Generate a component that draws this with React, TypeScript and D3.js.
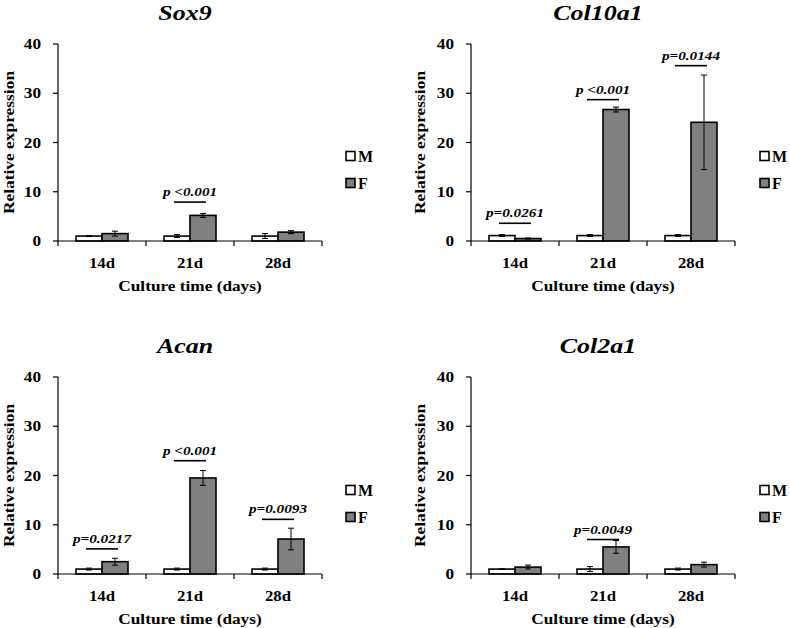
import * as d3 from 'd3'

const categories = ['14d', '21d', '28d']
const genes = ['Sox9', 'Col10a1', 'Acan', 'Col2a1']
const groups = ['M', 'F']
const yTicks = [0, 10, 20, 30, 40]

// mean / error per gene, per culture time
const maleMean = [
  [1.0, 1.0, 1.0],
  [1.1, 1.1, 1.1],
  [1.0, 1.0, 1.0],
  [1.0, 1.0, 1.0],
]
const maleErr = [
  [0.1, 0.3, 0.5],
  [0.2, 0.2, 0.2],
  [0.2, 0.2, 0.2],
  [0.05, 0.5, 0.2],
]
const femaleMean = [
  [1.5, 5.2, 1.8],
  [0.5, 26.7, 24.1],
  [2.5, 19.5, 7.1],
  [1.4, 5.5, 1.9],
]
const femaleErr = [
  [0.5, 0.4, 0.3],
  [0.1, 0.5, 9.6],
  [0.7, 1.5, 2.2],
  [0.4, 1.3, 0.5],
]

// significance lines: gene index, category, line height, label
const annotations = [
  { gene: 0, cat: '21d', level: 7.9, label: 'p <0.001' },
  { gene: 1, cat: '14d', level: 3.6, label: 'p=0.0261' },
  { gene: 1, cat: '21d', level: 28.7, label: 'p <0.001' },
  { gene: 1, cat: '28d', level: 35.6, label: 'p=0.0144' },
  { gene: 2, cat: '14d', level: 5.1, label: 'p=0.0217' },
  { gene: 2, cat: '21d', level: 23.0, label: 'p <0.001' },
  { gene: 2, cat: '28d', level: 11.1, label: 'p=0.0093' },
  { gene: 3, cat: '21d', level: 7.0, label: 'p=0.0049' },
]

const font = "'Liberation Serif', 'DejaVu Serif', 'Times New Roman', serif"
const fillF = '#808080'

// the original figure is a little stretched sideways, so text gets a horizontal scale
function T({ x, y, sx = 1.15, rotate = 0, anchor = 'middle', size = 15, italic = false, children }: any) {
  return (
    <text transform={`translate(${x},${y}) rotate(${rotate}) scale(${sx},1)`} textAnchor={anchor}
      fontSize={size} fontWeight="bold" fontStyle={italic ? 'italic' : 'normal'}>
      {children}
    </text>
  )
}

function Panel({ index }: { index: number }) {
  const col = index % 2
  const row = Math.floor(index / 2)
  const ax = col === 0 ? 58 : 471
  const axisW = 264
  const y0 = row === 0 ? 241 : 574
  const y40 = row === 0 ? 44 : 377

  const x = d3.scaleBand<string>().domain(categories).range([ax, ax + axisW]).padding(0)
  const sub = d3.scaleBand<string>().domain(groups).range([x.bandwidth() / 2 - 26, x.bandwidth() / 2 + 26])
  const y = d3.scaleLinear().domain([0, 40]).range([y0, y40])
  const mid = ax + axisW / 2

  const legendX = col === 0 ? 346 : 760
  const legendY = row === 0 ? 156 : 490

  return (
    <g fontFamily={font}>
      <T x={mid - 5} y={y40 - 24} size={22} sx={1.18} italic>{genes[index]}</T>

      {/* bars */}
      {categories.map((c, ci) =>
        groups.map(g => {
          const v = g === 'M' ? maleMean[index][ci] : femaleMean[index][ci]
          const e = g === 'M' ? maleErr[index][ci] : femaleErr[index][ci]
          const bx = (x(c) ?? 0) + (sub(g) ?? 0)
          const cx = bx + sub.bandwidth() / 2
          const lo = y(Math.max(0, v - e))
          const hi = y(v + e)
          return (
            <g key={c + g}>
              <rect x={bx} y={y(v)} width={sub.bandwidth()} height={y0 - y(v)}
                fill={g === 'M' ? '#fff' : fillF} stroke="#000" strokeWidth={1.6} />
              <line x1={cx} x2={cx} y1={hi} y2={lo} stroke="#000" strokeWidth={1} />
              <line x1={cx - 3} x2={cx + 3} y1={hi} y2={hi} stroke="#000" strokeWidth={1} />
              <line x1={cx - 3} x2={cx + 3} y1={lo} y2={lo} stroke="#000" strokeWidth={1} />
            </g>
          )
        })
      )}

      {/* y axis */}
      <line x1={ax} x2={ax} y1={y40} y2={y0} stroke="#000" strokeWidth={1.2} />
      {yTicks.map(t => (
        <g key={t}>
          <line x1={ax - 5} x2={ax} y1={y(t)} y2={y(t)} stroke="#000" strokeWidth={1.2} />
          <T x={ax - 17} y={y(t) + 5} anchor="end" size={15} sx={1.15}>{t}</T>
        </g>
      ))}
      <T x={ax - (col === 0 ? 44 : 46)} y={(y0 + y40) / 2} rotate={-90} size={15} sx={1.16}>Relative expression</T>

      {/* x axis */}
      <line x1={ax} x2={ax + axisW} y1={y0} y2={y0} stroke="#000" strokeWidth={1.2} />
      {[...categories.map(c => x(c) ?? 0), ax + axisW].map((tx, i) => (
        <line key={i} x1={tx} x2={tx} y1={y0} y2={y0 + 5} stroke="#000" strokeWidth={1.2} />
      ))}
      {categories.map(c => (
        <T key={c} x={(x(c) ?? 0) + x.bandwidth() / 2} y={y0 + 27} size={15} sx={1.12}>{c}</T>
      ))}
      <T x={mid} y={y0 + 50} size={15} sx={1.15}>Culture time (days)</T>

      {/* significance */}
      {annotations.filter(a => a.gene === index).map(a => {
        const gx = (x(a.cat) ?? 0) + x.bandwidth() / 2
        return (
          <g key={a.cat}>
            <line x1={gx - 16} x2={gx + 16} y1={y(a.level)} y2={y(a.level)} stroke="#000" strokeWidth={1.6} />
            <T x={gx} y={y(a.level) - 6} size={13} sx={1.17} italic>{a.label}</T>
          </g>
        )
      })}

      {/* legend */}
      {groups.map((g, gi) => (
        <g key={g} transform={`translate(${legendX},${legendY + gi * 27})`}>
          <rect x={0} y={-4.5} width={9} height={9} fill={g === 'M' ? '#fff' : fillF} stroke="#000" strokeWidth={1.6} />
          <T x={12} y={5.5} anchor="start" size={16} sx={1}>{g}</T>
        </g>
      ))}
    </g>
  )
}

export default function App() {
  return (
    <svg width={790} height={628} viewBox="0 0 790 628"
      style={{ position: 'absolute', left: 0, top: 0, background: '#fff' }}>
      <rect width={790} height={628} fill="#fff" />
      {genes.map((g, i) => <Panel key={g} index={i} />)}
    </svg>
  )
}
